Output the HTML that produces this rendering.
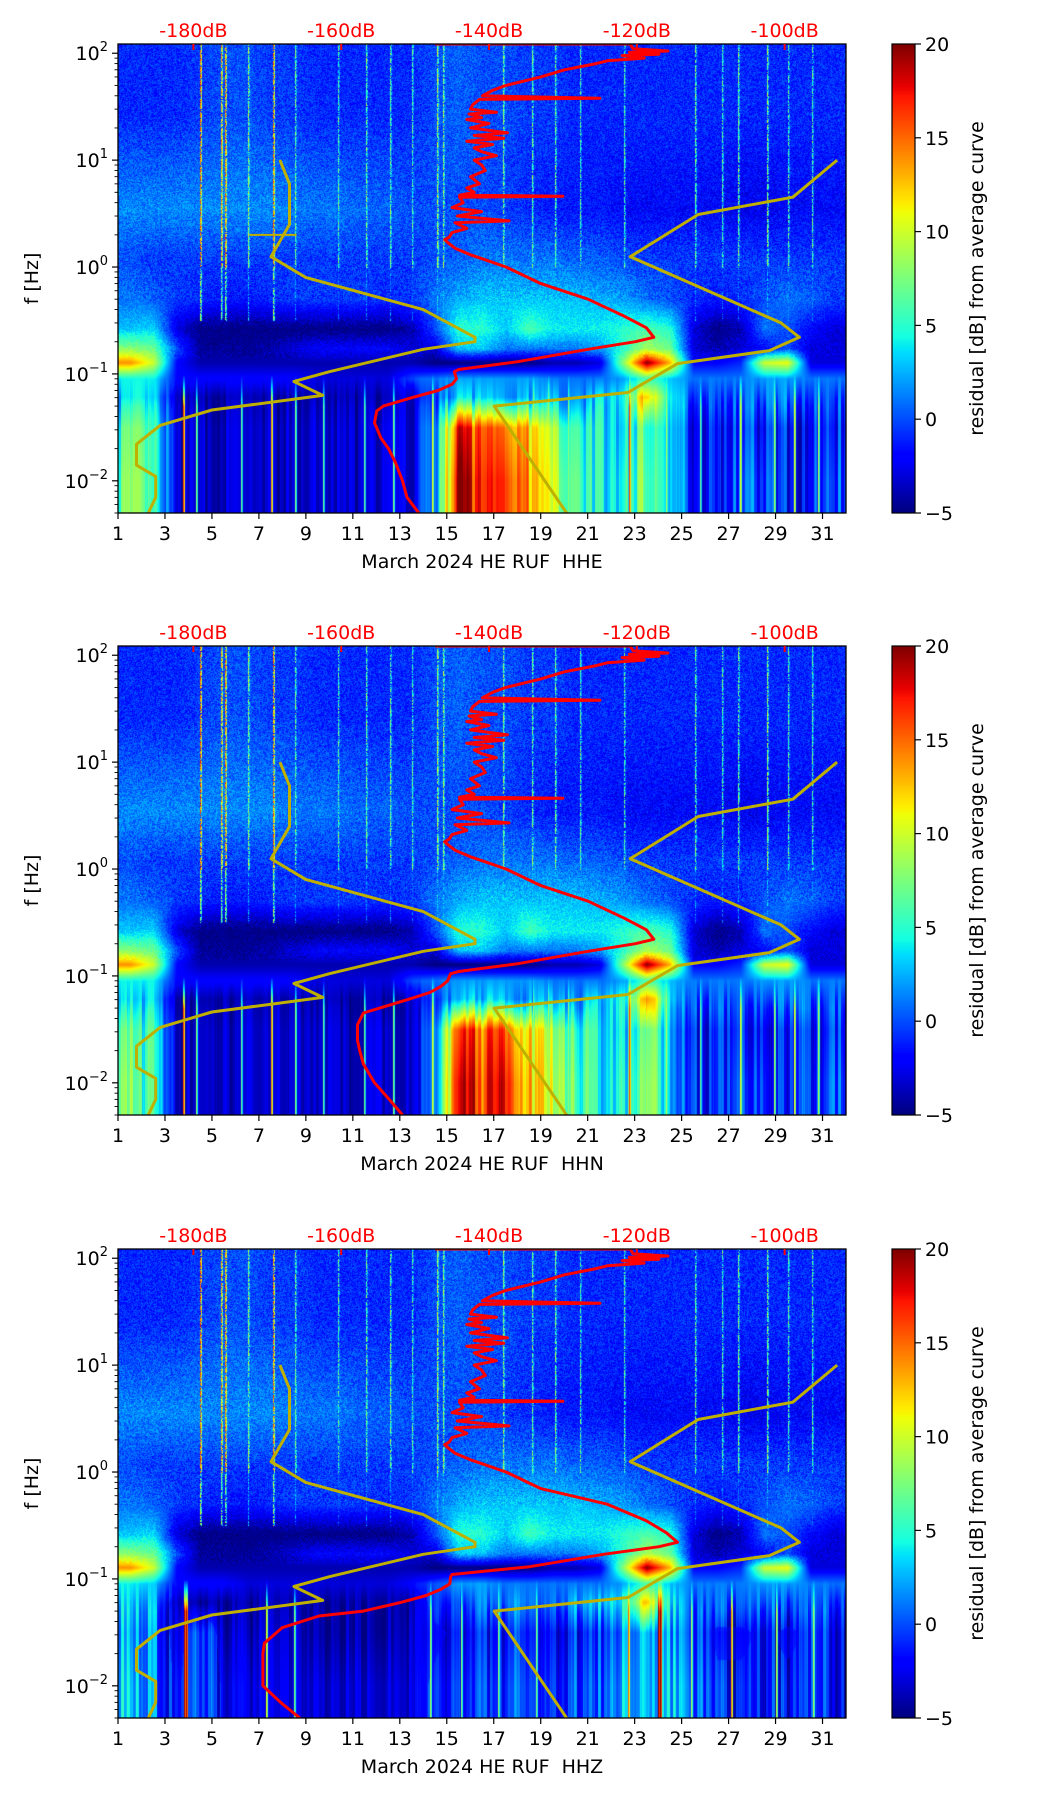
<!DOCTYPE html>
<html><head><meta charset="utf-8"><style>
html,body{margin:0;padding:0;background:#fff;}
#wrap{position:relative;width:1052px;height:1806px;overflow:hidden;}
canvas{position:absolute;}
svg{position:absolute;left:0;top:0;}
text{font-family:"DejaVu Sans","Liberation Sans",sans-serif;}
</style></head><body>
<div id="wrap">
<canvas id="hm0"></canvas>
<canvas id="hm1"></canvas>
<canvas id="hm2"></canvas>
<canvas id="cb0"></canvas>
<canvas id="cb1"></canvas>
<canvas id="cb2"></canvas>
<svg id="ov" width="1052" height="1806"></svg>
</div>
<script>
// ---------- data ----------
const channels = ["HHE","HHN","HHZ"];
const xTicks = [1,3,5,7,9,11,13,15,17,19,21,23,25,27,29,31];
const yTickExp = [2,1,0,-1,-2];
const dbTicks = [-180,-160,-140,-120,-100];
const cbTicks = [-5,0,5,10,15,20];
const bandEdges = [122,6,2,0.7,0.35,0.2,0.15,0.11,0.075,0.05,0.02,0.005];
const bandA = [-1,-1,-1,-0.5,0,0,-0.5,-0.5,-1,-1,-1,-1,-1,0,0.5,0,0,-0.5,-0.5,-1,-1,-1,-1,-1,-1,-1,-1,-1,-1,-1,-1];
const bandB = [1.5,1.5,1.5,1.5,1.5,1.5,1.5,1,1,1,0.5,0.5,0,0,0,0,-0.5,-1,-1.5,-1.5,-1.5,-2,-2,-2,-2,-2,-2.5,-2.5,-2,-2,-2];
const bandC = [0,-0.5,-0.5,-0.5,-0.5,-0.5,-0.5,-0.5,-0.5,-0.5,-0.5,-0.5,-0.5,0,0.5,1,1,1,1,0.5,0.5,0,-0.5,-0.5,-0.5,-0.5,-0.5,-0.5,-0.5,-0.5,-0.5];
const bandD = [1,0.5,-0.5,-1,-1.5,-1.5,-1,-0.5,-0.5,-0.5,-0.5,-1,-0.5,1,2.5,3,3,3,3,3,2.5,2,1,0,-1,-1.5,-1,0,1,0.5,-0.5];
const bandE = [3,3.5,-3,-5,-5,-5,-5,-5,-5,-5,-5,-5,-4,0,5,5,3,6,4,4,4,5,6,5,-3,-5,-4,1,0,-2,-3];
const bandF = [8,7,0,-4.5,-4.5,-4.5,-4,-3,-2,-2,-2,-2,-3,-3,3,3,1,1,1,1,2,5,9,7,-3,-4,-3,-2,0,-3,-3];
const bandG = [14,10,-2,-4,-4,-4,-4,-4,-4,-4,-4,-4,-4,-5,-5,-5,-5,-5,-4,-4,-3,8,20,13,-2,-2,-1,10,11,-3,-3];
const bandH = [4,4,-2,-2,-2,-2,-2,-2,-3,-3,-3,-3,0,1,2,2,2,2,1,1,1,2,6,3,1,1,1,2,2,1,1];
const bandI = [3,3,-4,-4,-4,-4,-4,-4,-4,-4,-4,-4,-3,0,3,3,3,2,2,2,3,4,14,4,0,0,0,1,1,0,0];
const bandJ1 = [6,5,-3.5,-3.5,-3.5,-3.5,-3.5,-3.5,-3.5,-3.5,-3.5,-3,-3,2,17,15,16,12,8,6,4,3,7,3,-1.5,-1.5,-1,-1,-1.5,-1.5,-1];
const bandJ2 = [7,5,-3.5,-3.5,-3.5,-3.5,-3.5,-3.5,-3.5,-3.5,-3.5,-3,-3,2,19,16,18,13,9,7,4,4,8,3,-1,-1.5,0,0,-1.5,-1,0];
const bandH3 = [4,3,-2,-2,-2,-3,-3,-3,-3,-3,-3,-3,-2,0,2,2,1,1,1,1,1,2,6,3,1,1,1,2,2,1,1];
const bandI3 = [3,2,-4,-4,-4,-4,-4,-4,-4,-4,-4,-4,-4,-1,0,1,1,1,1,2,3,4,13,4,0,0,0,1,0,0,0];
const bandJ1z = [2,1,-3.5,1,-3.5,-3.5,-3.5,-3.5,-4,-4,-4,-4,-3.5,-2.5,-1.5,-1.5,-1.5,-1.5,-1.5,-1.5,-0.5,1,3,2,-0.5,-2.5,-2.5,-1.5,-2.5,-1.5,-1.5];
const bandJ2z = [3,1,-2.5,1,-2.5,-2.5,-3,-3,-3,-3,-3,-3,-3,-1.5,-0.5,-0.5,-0.5,-0.5,-0.5,-0.5,0.5,2,3,3,0.5,-1.5,-1.5,-1.5,-1.5,-1.5,-1.5];
const topStreakDays = [4.49,5.38,5.55,6.53,7.59,8.54,10.35,11.55,12.59,13.5,14.6,14.82,17.38,18.62,19.6,20.68,22.54,25.55,26.7,27.39,28.65,29.51,30.57];
const topStreakVals = [15,13,14,8,14,7,6,7,7,6,9,8,8,7,7,6,6,7,6,7,8,6,6];
const lowStreakDays = [3.78,4.34,6.23,7.52,8.53,9.72,11.46,12.71,14.39,18.68,19.31,20.15,22.77,24.33,25.8,27.47,28.94,29.77,30.82];
const lowStreakVals = [16,8,7,14,8,7,7,8,11,9,9,8,16,9,7,11,9,11,9];
const lowStreakDaysZ = [3.8,3.9,7.3,8.5,14.3,15.6,17.2,18.8,22.7,24.0,24.1,25.4,27.1,29.0,30.6];
const lowStreakValsZ = [19,19,11,8,9,8,8,8,15,20,20,9,14,10,9];
const nlnmF = [10,6,2.5,1.25,0.8,0.4,0.22,0.2,0.17,0.105,0.085,0.063,0.046,0.033,0.022,0.014,0.011,0.007,0.005];
const nlnmDB = [-168.3,-167,-167,-169.5,-164.8,-148.9,-141.9,-141.9,-148.9,-161.6,-166.4,-162.5,-177.5,-184.5,-187.7,-187.7,-185.1,-185.1,-186.1];
const nhnmF = [10,4.5,3.1,1.25,0.3,0.22,0.165,0.125,0.067,0.05,0.005];
const nhnmDB = [-92.9,-98.9,-111.7,-120.9,-100.5,-98,-102.1,-114.5,-121.2,-139.3,-129.5];
const redTopF = [122,122,110,105,102,98,95,90,85,80,70,60,50,45,40,38,37,33,30,28,27,25,24,22,20,18,17,16,15,14,13,12,11,10,9,8,7,6,5.5,5,4.7,4.6,4.5,4,3.6,3.3,3,2.7,2.6,2.3,2.1,1.9,1.8,1.7,1.5,1.3,1.2,1.0,0.7];
const redTopDB = [-147.3,-120.9,-120.5,-115.8,-121,-117,-122,-119,-124,-125.5,-129.8,-133,-137.7,-139.5,-140.9,-125,-141.3,-142.2,-142.5,-139,-142.7,-141,-143,-140,-142.5,-137.5,-142,-138,-143,-139.5,-142,-141,-139,-142,-141,-140.5,-142.5,-141.3,-143,-142,-144,-130,-144,-143.5,-145,-141,-144.3,-137.3,-144.6,-143,-145,-145.4,-146,-145.6,-144.6,-142.5,-141,-137.7,-133];
const redLowF = [0.5,0.35,0.27,0.22,0.2,0.17,0.13,0.11,0.105,0.09,0.08,0.07,0.06,0.05,0.045,0.035,0.025,0.02,0.015,0.01,0.007,0.005];
const redLowDB_E = [-126.6,-121.8,-118.7,-117.7,-120.2,-126.6,-136.1,-144.1,-144.7,-144.4,-145,-146.9,-150.4,-154.3,-155.2,-155.5,-154.6,-153.6,-152.7,-151.7,-151.1,-149.5];
const redLowDB_N = [-126.6,-121.8,-118.7,-117.7,-120.2,-126.6,-136.1,-144.1,-145.2,-145.6,-146.5,-148,-151,-154.8,-157,-157.8,-157.8,-157.5,-157,-155.5,-153.5,-151.7];
const redLowDB_Z = [-124,-118.7,-116,-114.5,-117,-124.5,-134.5,-145,-145.2,-145.3,-146.5,-148.5,-152,-157,-163,-168,-170.4,-170.6,-170.6,-170.6,-168.2,-165.6];

// ---------- layout ----------
const X0=118, X1=846, W=X1-X0, H=469;
const TOPS=[44,646,1249];
const LMAX=Math.log10(122), LMIN=Math.log10(0.005);
const DBMIN=-190.2, DBMAX=-91.7;
const CBX=892, CBW=23;
function xDay(d){return X0+(d-1)*W/31;}
function xDB(db){return X0+(db-DBMIN)*W/(DBMAX-DBMIN);}
function yF(f,T){return T+(LMAX-Math.log10(f))*H/(LMAX-LMIN);}
function interp(t,xs,ys){if(t<=xs[0])return ys[0];for(let i=1;i<xs.length;i++){if(t<=xs[i]){const a=(t-xs[i-1])/(xs[i]-xs[i-1]);return ys[i-1]+a*(ys[i]-ys[i-1]);}}return ys[ys.length-1];}
function jet(t){t=Math.max(0,Math.min(1,t));
 return [interp(t,[0,.35,.66,.89,1],[0,0,1,1,.5]),interp(t,[0,.125,.375,.64,.91,1],[0,0,1,1,0,0]),interp(t,[0,.11,.34,.65,1],[.5,1,1,0,0])].map(v=>Math.round(v*255));}
function vcol(v){return jet((v+5)/25);}

const panelBands=[
 [bandA,bandB,bandC,bandD,bandE,bandF,bandG,bandH,bandI,bandJ1,bandJ2],
 [bandA,bandB,bandC,bandD,bandE,bandF,bandG,bandH,bandI,bandJ1,bandJ2],
 [bandA,bandB,bandC,bandD,bandE,bandF,bandG,bandH3,bandI3,bandJ1z,bandJ2z]];
const panelLowS=[[lowStreakDays,lowStreakVals],[lowStreakDays,lowStreakVals],[lowStreakDaysZ,lowStreakValsZ]];
const panelRedLow=[redLowDB_E,redLowDB_N,redLowDB_Z];

let seed=7;function rnd(){seed=(seed*16807)%2147483647;return seed/2147483647;}

function drawHeat(p){
 const c=document.getElementById('hm'+p);c.width=W;c.height=H;c.style.left=X0+'px';c.style.top=TOPS[p]+'px';
 const ctx=c.getContext('2d');const img=ctx.createImageData(W,H);
 const bands=panelBands[p];
 const centers=[];for(let i=0;i<bands.length;i++)centers.push((Math.log10(bandEdges[i])+Math.log10(bandEdges[i+1]))/2);
 const topCol=new Float32Array(W).fill(-99), lowCol=new Float32Array(W).fill(-99);
 topStreakDays.forEach((d,i)=>{const x=Math.round(xDay(d)-X0);if(x>=0&&x<W)topCol[x]=Math.max(topCol[x],topStreakVals[i]);if(x+1<W)topCol[x+1]=Math.max(topCol[x+1],topStreakVals[i]-5);});
 const ls=panelLowS[p];ls[0].forEach((d,i)=>{const x=Math.round(xDay(d)-X0);if(x>=0&&x<W)lowCol[x]=Math.max(lowCol[x],ls[1][i]);if(x+1<W)lowCol[x+1]=Math.max(lowCol[x+1],ls[1][i]-4);});
 // per-column texture for low band (vertical streaky look)
 const colTex=new Float32Array(W);let cur=0;for(let x=0;x<W;x++){if(x%3===0)cur=(rnd()-0.5)*5;colTex[x]=cur+(rnd()-0.5)*1.2;}
 for(let y=0;y<H;y++){
  const lf=LMAX-(y/H)*(LMAX-LMIN);
  let bi=0,bw=0;
  if(lf>=centers[0]){bi=0;bw=0;}else if(lf<=centers[centers.length-1]){bi=centers.length-2;bw=1;}
  else{for(let i=0;i<centers.length-1;i++){if(lf<=centers[i]&&lf>=centers[i+1]){bi=i;bw=(centers[i]-lf)/(centers[i]-centers[i+1]);break;}}}
  const A=bands[bi],B=bands[bi+1];
  const ramp=Math.max(0,Math.min(1,(-1.0-lf)/0.3));
  for(let x=0;x<W;x++){
   const d=x/W*31-0.5;let di=Math.floor(d),dw=d-di;
   if(di<0){di=0;dw=0;}if(di>=30){di=29;dw=1;}
   const va=A[di]*(1-dw)+A[di+1]*dw, vb=B[di]*(1-dw)+B[di+1]*dw;
   let v=va*(1-bw)+vb*bw;
   if(lf>-0.3) v+= (rnd()-0.5)*3;
   else if(lf>-0.85) v+=(rnd()-0.5)*2;
   if(ramp>0){const amp=v<-2?0.5:1;v+=colTex[x]*ramp*amp;}
   if(lf>-0.5&&topCol[x]>-99&&rnd()<0.8) v=Math.max(v,topCol[x]-(lf<0?6:0)+(rnd()-0.5)*6);
   if(ramp>0&&lowCol[x]>-99) v=Math.max(v,v+(lowCol[x]-v)*ramp);
   const col=vcol(v);const o=(y*W+x)*4;
   img.data[o]=col[0];img.data[o+1]=col[1];img.data[o+2]=col[2];img.data[o+3]=255;
  }
 }
 ctx.putImageData(img,0,0);
}
function drawCB(p){
 const c=document.getElementById('cb'+p);c.width=CBW;c.height=H;c.style.left=CBX+'px';c.style.top=TOPS[p]+'px';
 const ctx=c.getContext('2d');
 for(let y=0;y<H;y++){const col=jet(1-y/(H-1));ctx.fillStyle=`rgb(${col[0]},${col[1]},${col[2]})`;ctx.fillRect(0,y,CBW,1);}
}
const NS="http://www.w3.org/2000/svg";
const ov=document.getElementById('ov');
function el(tag,attrs,parent){const e=document.createElementNS(NS,tag);for(const k in attrs)e.setAttribute(k,attrs[k]);(parent||ov).appendChild(e);return e;}
function polyline(fs,dbs,T,color,w,name,parent){
 const pts=fs.map((f,i)=>xDB(dbs[i]).toFixed(1)+','+yF(f,T).toFixed(1)).join(' ');
 const e=el('polyline',{points:pts,fill:'none',stroke:color,'stroke-width':w,'stroke-linejoin':'round'},parent);
 
 
 return e;
}
for(let p=0;p<3;p++){
 drawHeat(p);drawCB(p);
 const T=TOPS[p];
 const g=el('g',{});
 
 
 const clip=el('clipPath',{id:'clip'+p},g);el('rect',{x:X0,y:T,width:W,height:H},clip);
 const lines=el('g',{'clip-path':'url(#clip'+p+')'},g);
 polyline(nlnmF,nlnmDB,T,'#bfb000',3,'nlnm-curve',lines);
 polyline(nhnmF,nhnmDB,T,'#bfb000',3,'nhnm-curve',lines);
 if(p===0){const s=el('line',{x1:xDay(6.6),x2:xDay(8.6),y1:yF(2,T),y2:yF(2,T),stroke:'#bfb000','stroke-width':2},lines);}
 polyline(redTopF.concat(redLowF),redTopDB.concat(panelRedLow[p]),T,'#ff0000',3,'median-psd-curve',lines);
 const fr=el('rect',{x:X0,y:T,width:W,height:H,fill:'none',stroke:'#000','stroke-width':1.3},g);
 
 xTicks.forEach(d=>{const x=xDay(d);el('line',{x1:x,x2:x,y1:T+H,y2:T+H+6,stroke:'#000','stroke-width':1.2},g);
  const t=el('text',{x:x,y:T+H+27,'font-size':19,'text-anchor':'middle',fill:'#000'},g);t.textContent=d;
  });
 const xl=el('text',{x:(X0+X1)/2,y:T+H+55,'font-size':19,'text-anchor':'middle',fill:'#000'},g);
 xl.textContent='March 2024 HE RUF \u00a0'+channels[p];
 yTickExp.forEach(e=>{const y=yF(Math.pow(10,e),T);el('line',{x1:X0-6,x2:X0,y1:y,y2:y,stroke:'#000','stroke-width':1.2},g);
  const t=el('text',{x:X0-10,y:y+7,'font-size':19,'text-anchor':'end',fill:'#000'},g);
  
  const a=el('tspan',{},t);a.textContent='10';const b=el('tspan',{'font-size':13,dy:-9},t);b.textContent=(e<0?'\u2212':'')+Math.abs(e);});
 for(let e=-3;e<=2;e++)for(let m=2;m<=9;m++){const f=m*Math.pow(10,e);if(f<0.005||f>122)continue;const y=yF(f,T);el('line',{x1:X0-3.5,x2:X0,y1:y,y2:y,stroke:'#000','stroke-width':0.9},g);}
 const yl=el('text',{x:0,y:0,'font-size':19,'text-anchor':'middle',transform:`translate(38,${T+H/2}) rotate(-90)`,fill:'#000'},g);
 yl.textContent='f [Hz]';
 dbTicks.forEach(db=>{const x=xDB(db);el('line',{x1:x,x2:x,y1:T,y2:T+6,stroke:'#ff0000','stroke-width':2},g);
  const t=el('text',{x:x,y:T-7,'font-size':19,'text-anchor':'middle',fill:'#ff0000'},g);t.textContent=db+'dB';
  });
 const cbf=el('rect',{x:CBX,y:T,width:CBW,height:H,fill:'none',stroke:'#000','stroke-width':1.2},g);
 
 cbTicks.forEach(v=>{const y=T+H-(v+5)/25*H;el('line',{x1:CBX+CBW,x2:CBX+CBW+6,y1:y,y2:y,stroke:'#000','stroke-width':1.2},g);
  const t=el('text',{x:CBX+CBW+10,y:y+7,'font-size':19,fill:'#000'},g);t.textContent=(v<0?'\u2212':'')+Math.abs(v);
  });
 const cl=el('text',{x:0,y:0,'font-size':19,'text-anchor':'middle',transform:`translate(983,${T+H/2}) rotate(-90)`,fill:'#000'},g);
 cl.textContent='residual [dB] from average curve';
}
</script>
</body></html>
